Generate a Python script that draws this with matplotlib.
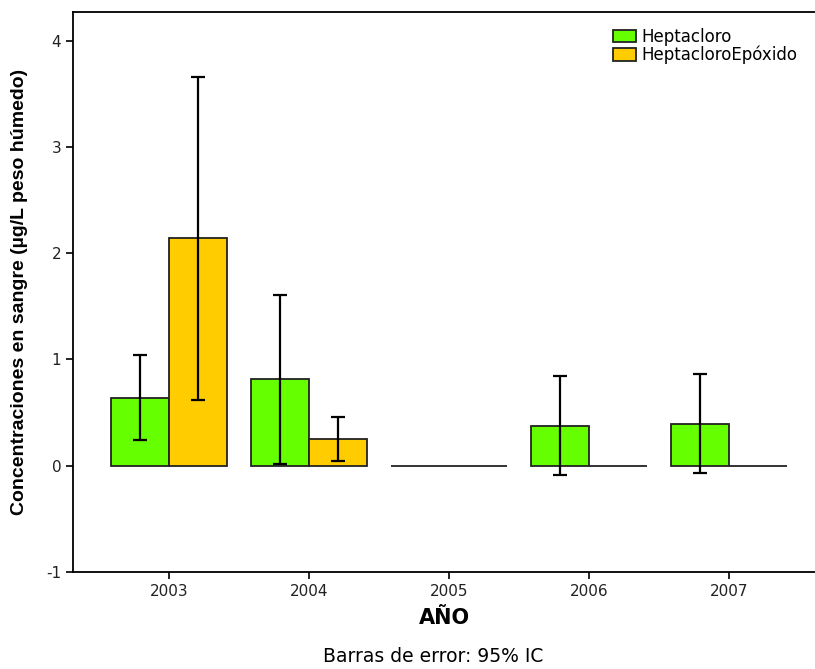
import matplotlib.pyplot as plt
import numpy as np

# data
years = ["2003", "2004", "2005", "2006", "2007"]
hepta = [0.64, 0.82, 0.0, 0.37, 0.39]
hepta_lo = [0.245, 0.02, 0.0, -0.09, -0.07]
hepta_hi = [1.04, 1.61, 0.0, 0.84, 0.86]
epox = [2.14, 0.25, 0.0, 0.0, 0.0]
epox_lo = [0.62, 0.04, 0.0, 0.0, 0.0]
epox_hi = [3.66, 0.46, 0.0, 0.0, 0.0]

plt.rcParams['font.family'] = ['DejaVu Sans']
plt.rcParams['axes.unicode_minus'] = False

fig = plt.figure(figsize=(8.15, 6.69), dpi=100)
ax = fig.add_axes([0.0896, 0.145, 0.9104, 0.837])

x = np.arange(len(years))
w = 0.414

def draw(xpos, vals, lo, hi, color, label):
    ax.bar(xpos, vals, width=w, color=color, edgecolor="#222222",
           linewidth=1.3, label=label, zorder=2)
    for xi, v, l, h in zip(xpos, vals, lo, hi):
        if h == l:
            continue
        ax.errorbar(xi, v, yerr=[[v - l], [h - v]], fmt="none",
                    ecolor="black", elinewidth=1.6, capsize=5,
                    capthick=1.6, zorder=3)

draw(x - w / 2, hepta, hepta_lo, hepta_hi, "#66FF00", "Heptacloro")
draw(x + w / 2, epox, epox_lo, epox_hi, "#FFCC00", "HeptacloroEpóxido")

ax.set_xlim(-0.686, len(years) - 1 + 0.614)
ax.set_ylim(-1, 4.27)
ax.set_xticks(x)
ax.set_xticklabels(years, fontsize=11, color="#222222")
ax.set_yticks([-1, 0, 1, 2, 3, 4])
ax.tick_params(axis="y", labelsize=11, labelcolor="#222222", length=5, width=1.2)
ax.tick_params(axis="x", length=5, width=1.2, pad=4)
for s in ["left", "bottom", "top"]:
    ax.spines[s].set_linewidth(1.3)
ax.spines["right"].set_visible(False)

ax.set_xlabel("AÑO", fontsize=15, fontweight="bold", labelpad=6)
ax.set_ylabel("Concentraciones en sangre (µg/L peso húmedo)", fontsize=14,
              fontweight="bold", family=['Liberation Sans', 'DejaVu Sans'],
              labelpad=13)

ax.legend(loc="upper left", bbox_to_anchor=(0.728, 0.972), frameon=False,
          fontsize=12, handlelength=1.35, handleheight=0.8,
          handletextpad=0.35, labelspacing=0.0, borderaxespad=0, borderpad=0)

fig.text(0.531, 0.004, "Barras de error: 95% IC", ha="center", va="bottom",
         fontsize=13.5)

fig.savefig("out.png", dpi=100)
